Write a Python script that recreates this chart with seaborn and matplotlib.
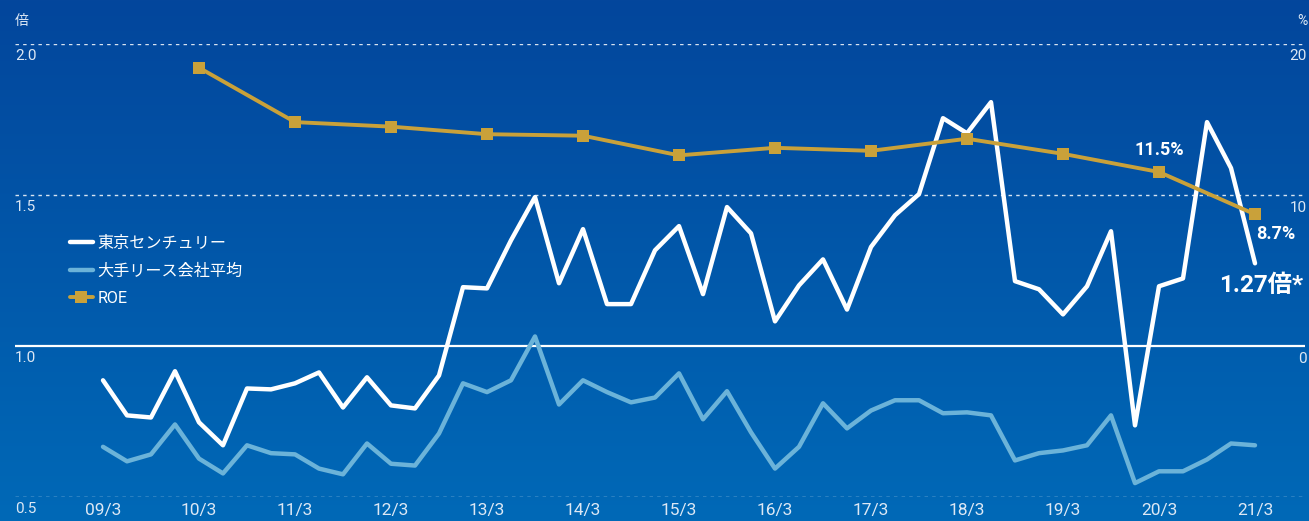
import numpy as np
import pandas as pd
import matplotlib
matplotlib.use("Agg")
import matplotlib.pyplot as plt
import seaborn as sns
from matplotlib.colors import LinearSegmentedColormap

# quarterly data, 09/3 .. 21/3
quarters = list(range(49))
tc_pbr = [0.886, 0.770, 0.763, 0.916, 0.747, 0.671, 0.859, 0.856, 0.876, 0.912,
          0.796, 0.896, 0.803, 0.793, 0.902, 1.194, 1.190, 1.349, 1.492, 1.207,
          1.386, 1.138, 1.138, 1.316, 1.396, 1.171, 1.459, 1.372, 1.081, 1.200,
          1.286, 1.120, 1.327, 1.432, 1.502, 1.753, 1.703, 1.806, 1.214, 1.187,
          1.104, 1.197, 1.379, 0.737, 1.197, 1.223, 1.740, 1.588, 1.273]
avg_pbr = [0.666, 0.618, 0.641, 0.740, 0.627, 0.578, 0.671, 0.645, 0.641, 0.594,
           0.575, 0.677, 0.610, 0.604, 0.710, 0.876, 0.847, 0.886, 1.031, 0.806,
           0.886, 0.847, 0.813, 0.829, 0.909, 0.757, 0.850, 0.714, 0.594, 0.666,
           0.810, 0.727, 0.786, 0.820, 0.820, 0.777, 0.780, 0.770, 0.621, 0.645,
           0.654, 0.671, 0.770, 0.546, 0.585, 0.585, 0.624, 0.677, 0.671]

# annual ROE (%), 10/3 .. 21/3
roe_quarters = list(range(4, 49, 4))
roe = [18.4, 14.8, 14.5, 14.0, 13.9, 12.6, 13.1, 12.9, 13.7, 12.7, 11.5, 8.7]

year_ticks = list(range(0, 49, 4))
year_labels = ["09/3", "10/3", "11/3", "12/3", "13/3", "14/3", "15/3",
               "16/3", "17/3", "18/3", "19/3", "20/3", "21/3"]
left_ticks = [0.5, 1.0, 1.5, 2.0]
right_ticks = [-10, 0, 10, 20]

sns.set_style("white")
plt.rcParams["font.family"] = ["Roboto", "Noto Sans CJK JP", "DejaVu Sans"]

W, H = 1309, 521
fig = plt.figure(figsize=(W / 100, H / 100), dpi=100)

# gradient background
bg = fig.add_axes([0, 0, 1, 1], zorder=-10)
cmap = LinearSegmentedColormap.from_list("bg", ["#03469C", "#0069B7"])
bg.imshow(np.linspace(0, 1, 256).reshape(-1, 1), aspect="auto", cmap=cmap,
          extent=[0, 1, 0, 1])
bg.set_axis_off()

left, right = 15 / W, 1305 / W
top, bottom = 1 - 43.5 / H, 1 - 497 / H
ax = fig.add_axes([left, bottom, right - left, top - bottom])
ax.patch.set_alpha(0)
x0 = -88 / 24
x1 = (1305 - 103) / 24
ax.set_xlim(x0, x1)
ax.set_ylim(0.5, 2.0)

for v in left_ticks:
    if v == 1.0:
        ax.axhline(v, color="white", lw=1.6, zorder=1)
    else:
        ax.axhline(v, color="white", lw=1.0, ls=(0, (2.5, 3)), alpha=0.85, zorder=1)

df = pd.DataFrame({"q": quarters, "tc": tc_pbr, "avg": avg_pbr})
sns.lineplot(data=df, x="q", y="avg", ax=ax, color="#6BB3D9", lw=3.2,
             label="大手リース会社平均", zorder=3)
sns.lineplot(data=df, x="q", y="tc", ax=ax, color="white", lw=3.2,
             label="東京センチュリー", zorder=4)

ax2 = ax.twinx()
ax2.set_ylim(-10, 20)
ax2.patch.set_alpha(0)
rdf = pd.DataFrame({"q": roe_quarters, "roe": roe})
sns.lineplot(data=rdf, x="q", y="roe", ax=ax2, color="#C9A13A", lw=2.8,
             marker="s", markersize=8.5, markeredgewidth=0, label="ROE", zorder=5)
ax2.set_xlim(x0, x1)

for a in (ax, ax2):
    a.set_xlabel("")
    a.set_ylabel("")
    a.set_xticks([])
    a.set_yticks([])
    for s in a.spines.values():
        s.set_visible(False)

# legend
h1, l1 = ax.get_legend_handles_labels()
h2, l2 = ax2.get_legend_handles_labels()
if ax.get_legend():
    ax.get_legend().remove()
if ax2.get_legend():
    ax2.get_legend().remove()
handles = [h1[1], h1[0]] + h2
labels = [l1[1], l1[0]] + l2
fig.legend(handles, labels, loc="upper left",
           bbox_to_anchor=(70 / W, 1 - 236 / H), frameon=False,
           borderpad=0, borderaxespad=0,
           fontsize=11.6, handlelength=1.4, handletextpad=0.32,
           labelspacing=0.76, labelcolor="white")

# tick labels as text
tcol = "#DDE8F5"
for xv, lab in zip(year_ticks, year_labels):
    fig.text(left + (xv - x0) / (x1 - x0) * (right - left), 1 - 511 / H, lab,
             ha="center", va="center", color=tcol, fontsize=12.5)
for v, r in zip(left_ticks, right_ticks):
    ypx = 43.5 + (2.0 - v) / 1.5 * (497 - 43.5)
    fig.text(15 / W, 1 - (ypx + 12) / H, f"{v:.1f}", ha="left", va="center",
             color=tcol, fontsize=11)
    fig.text(1307 / W, 1 - (ypx + 13) / H, f"{r}" if r >= 0 else "",
             ha="right", va="center", color=tcol, fontsize=11)
fig.text(15 / W, 1 - 21 / H, "倍", ha="left", va="center", color=tcol, fontsize=10)
fig.text(1307 / W, 1 - 21 / H, "%", ha="right", va="center", color=tcol, fontsize=10)

# annotations
ax2.annotate("11.5%", (roe_quarters[-2], roe[-2]), xytext=(0, 16),
             textcoords="offset points", ha="center", va="center",
             color="white", fontsize=13, fontweight="bold")
ax2.annotate("8.7%", (roe_quarters[-1], roe[-1]), xytext=(1, -14),
             textcoords="offset points", ha="left", va="center",
             color="white", fontsize=13, fontweight="bold")
ax.annotate("1.27倍*", (quarters[-1], tc_pbr[-1]), xytext=(-26, -16),
            textcoords="offset points", ha="left", va="center",
            color="white", fontsize=17.5, fontweight="bold")

fig.savefig("out.png", dpi=100)
